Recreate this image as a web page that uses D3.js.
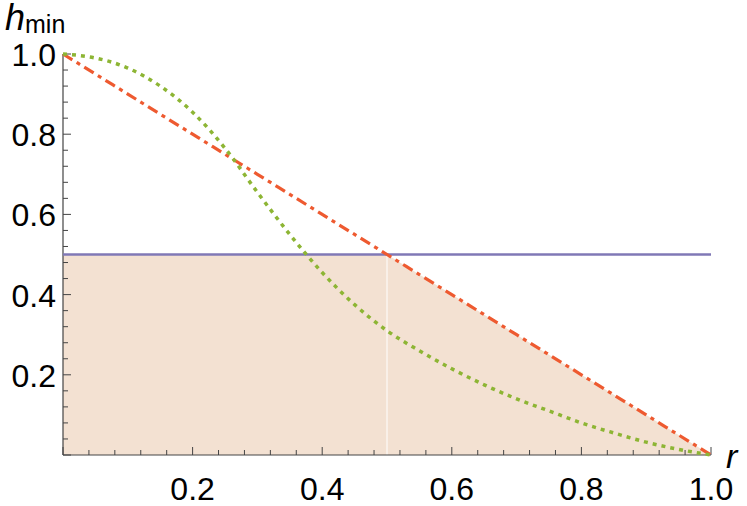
<!DOCTYPE html><html><head><script src="https://cdn.jsdelivr.net/npm/d3@7"></script>
<style>body{margin:0;background:#fff}text{font-family:"Liberation Sans",Arial,sans-serif;fill:#000}</style></head><body>
<svg id="c" width="747" height="506"></svg>
<script>
const rVals=[0,0.05,0.1,0.15,0.2,0.25,0.3,0.35,0.4,0.45,0.5,0.55,0.6,0.65,0.7,0.75,0.8,0.85,0.9,0.95,1.0];
const greenVals=[1,0.99,0.965,0.92,0.855,0.765,0.655,0.55,0.455,0.375,0.31,0.26,0.215,0.175,0.14,0.11,0.08,0.055,0.032,0.014,0];
const redVals=rVals.map(r=>1-r);
const blueLevel=0.5;
const xTicks=[0.2,0.4,0.6,0.8,1.0];
const yTicks=[0.2,0.4,0.6,0.8,1.0];
const svg=d3.select("#c");
const x=d3.scaleLinear().domain([0,1]).range([63,711]);
const y=d3.scaleLinear().domain([0,1]).range([455,54]);
const shade=rVals.map((r,i)=>[r,Math.min(blueLevel,redVals[i])]);
svg.append("path").datum(shade).attr("fill","#f3e1d2")
 .attr("d",d3.area().x(d=>x(d[0])).y0(y(0)).y1(d=>y(d[1])));
svg.append("line").attr("x1",x(0.5)).attr("x2",x(0.5)).attr("y1",y(0)).attr("y2",y(0.5)).attr("stroke","#fff").attr("stroke-width",1);
const minor=d3.range(0,1.001,0.04);
const g=svg.append("g");
g.append("line").attr("x1",x(0)).attr("x2",x(1)).attr("y1",y(0)).attr("y2",y(0)).attr("stroke","#444").attr("stroke-width",1.2);
g.append("line").attr("x1",x(0)).attr("x2",x(0)).attr("y1",y(0)).attr("y2",y(1)).attr("stroke","#444").attr("stroke-width",1.2);
minor.forEach(v=>{
 const major=Math.abs(v*5-Math.round(v*5))<1e-6;
 const L=major?8:5;
 g.append("line").attr("x1",x(v)).attr("x2",x(v)).attr("y1",y(0)).attr("y2",y(0)-L).attr("stroke","#444");
 g.append("line").attr("x1",x(0)).attr("x2",x(0)+L).attr("y1",y(v)).attr("y2",y(v)).attr("stroke","#444");
});
xTicks.forEach(v=>g.append("text").attr("x",x(v)).attr("y",500).attr("text-anchor","middle").attr("font-size",32).text(v.toFixed(1)));
yTicks.forEach(v=>g.append("text").attr("x",56).attr("y",y(v)+12).attr("text-anchor","end").attr("font-size",32).text(v.toFixed(1)));
const hl=svg.append("text").attr("x",5).attr("y",30);
hl.append("tspan").attr("font-size",36).attr("font-style","italic").text("h");
hl.append("tspan").attr("font-size",25).attr("dy",3).text("min");
svg.append("text").attr("x",726).attr("y",468).attr("font-size",34).attr("font-style","italic").text("r");
svg.append("line").attr("x1",x(0)).attr("x2",x(1)).attr("y1",y(blueLevel)).attr("y2",y(blueLevel)).attr("stroke","#8078b6").attr("stroke-width",2.5);
const ln=d3.line().x(d=>x(d[0])).y(d=>y(d[1])).curve(d3.curveMonotoneX);
svg.append("path").datum(rVals.map((r,i)=>[r,redVals[i]])).attr("d",ln).attr("fill","none").attr("stroke","#ee5a30").attr("stroke-width",3.2).attr("stroke-dasharray","11,5,4,5");
svg.append("path").datum(rVals.map((r,i)=>[r,greenVals[i]])).attr("d",ln).attr("fill","none").attr("stroke","#8db534").attr("stroke-width",3.5).attr("stroke-dasharray","4,5");
</script></body></html>
